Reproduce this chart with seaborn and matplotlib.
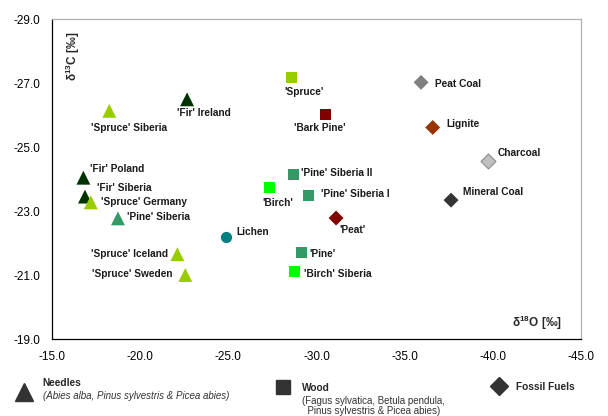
import pandas as pd
import matplotlib.pyplot as plt
import seaborn as sns
from matplotlib.lines import Line2D

# 資料：樣品名稱、分組、δ18O、δ13C、顏色
names = ["'Spruce' Siberia", "'Fir' Ireland", "'Fir' Poland", "'Fir' Siberia",
         "'Spruce' Germany", "'Pine' Siberia", "'Spruce' Iceland", "'Spruce' Sweden",
         "Lichen",
         "'Spruce'", "'Bark Pine'", "'Pine' Siberia II", "'Birch'", "'Pine' Siberia I",
         "'Pine'", "'Birch' Siberia",
         "'Peat'", "Peat Coal", "Lignite", "Charcoal", "Mineral Coal"]
groups = ['Needles'] * 8 + ['Lichen'] + ['Wood'] * 7 + ['Fossil'] * 5
d18O = [-18.25, -22.66, -16.78, -16.87, -17.20, -18.74, -22.11, -22.56,
        -24.85,
        -28.57, -30.52, -28.71, -27.32, -29.54, -29.16, -28.77,
        -31.11, -35.93, -36.59, -39.75, -37.63]
d13C = [-26.13, -26.49, -24.04, -23.45, -23.27, -22.77, -21.65, -21.00,
        -22.18,
        -27.16, -26.03, -24.13, -23.73, -23.48, -21.71, -21.11,
        -22.78, -27.02, -25.61, -24.56, -23.34]
colors = ['#99cc00', '#003300', '#003300', '#003300', '#99cc00', '#339966', '#99cc00', '#99cc00',
          '#008080',
          '#99cc00', '#800000', '#339966', '#00ff00', '#339966', '#339966', '#00ff00',
          '#800000', '#808080', '#993300', '#c0c0c0', '#333333']

x_ticks = [-15, -20, -25, -30, -35, -40, -45]
y_ticks = [-29, -27, -25, -23, -21, -19]

# 標籤位移 (像素, 相對於點中心) 與對齊方式
label_off = {
    "'Spruce' Siberia": (-18.6, 17, 'left'), "'Fir' Ireland": (-10.3, 14, 'left'),
    "'Fir' Poland": (6.7, -8.4, 'left'), "'Fir' Siberia": (11.7, -8.4, 'left'),
    "'Spruce' Germany": (10, 0, 'left'), "'Pine' Siberia": (9.3, -1.6, 'left'),
    "'Spruce' Iceland": (-9, 0, 'right'), "'Spruce' Sweden": (-13.3, -0.7, 'right'),
    "Lichen": (10.3, -5.6, 'left'),
    "'Spruce'": (-7.3, 13.7, 'left'), "'Bark Pine'": (-31.4, 13.7, 'left'),
    "'Pine' Siberia II": (7, -1.7, 'left'), "'Birch'": (-7.3, 15.4, 'left'),
    "'Pine' Siberia I": (12.4, -2, 'left'), "'Pine'": (7.6, 1.7, 'left'),
    "'Birch' Siberia": (9.6, 3, 'left'), "'Peat'": (3.3, 12.3, 'left'),
    "Peat Coal": (14.3, 2, 'left'), "Lignite": (13.3, -3, 'left'),
    "Charcoal": (9.4, -8.3, 'left'), "Mineral Coal": (12.3, -8.3, 'left'),
}

df = pd.DataFrame({'name': names, 'group': groups, 'd18O': d18O, 'd13C': d13C})
palette = dict(zip(names, colors))

sns.set_style("white")
plt.rcParams['font.family'] = ['Liberation Sans', 'DejaVu Sans']
plt.rcParams['axes.unicode_minus'] = False
plt.rcParams['mathtext.fontset'] = 'custom'
plt.rcParams['mathtext.rm'] = 'Liberation Sans'
plt.rcParams['mathtext.bf'] = 'Liberation Sans:bold'

fig = plt.figure(figsize=(6.08, 4.16), dpi=100)
ax = fig.add_axes([52 / 608, 1 - 339 / 416, 529 / 608, 320 / 416])

markers = {'Needles': '^', 'Lichen': 'o', 'Wood': 's', 'Fossil': 'D'}
sizes = {'Needles': 100, 'Lichen': 65, 'Wood': 62, 'Fossil': 58}
for g, m in markers.items():
    sub = df[df['group'] == g]
    sns.scatterplot(data=sub, x='d18O', y='d13C', hue='name', palette=palette,
                    marker=m, s=sizes[g], linewidth=0, legend=False, ax=ax)
# Charcoal 有灰色邊框
ch = df[df['name'] == 'Charcoal']
ax.scatter(ch['d18O'], ch['d13C'], marker='D', s=58, facecolor='#c0c0c0',
           edgecolor='#909090', linewidth=0.8, zorder=3)

for _, r in df.iterrows():
    dx, dy, ha = label_off[r['name']]
    ax.annotate(r['name'], (r['d18O'], r['d13C']), xytext=(dx * 0.72, -dy * 0.72),
                textcoords='offset points', ha=ha, va='center',
                fontsize=7.3, fontweight='bold', color='#1a1a1a')

ax.set_xlim(-15, -45)
ax.set_ylim(-19, -29)
ax.set_xticks(x_ticks)
ax.set_yticks(y_ticks)
ax.set_xticklabels([f'{v:.1f}' for v in x_ticks])
ax.set_yticklabels([f'{v:.1f}' for v in y_ticks])
ax.tick_params(axis='x', direction='in', length=3.5, width=0.8, pad=9, labelsize=8.5, colors='black')
ax.tick_params(axis='y', direction='out', length=2.5, width=0.8, pad=6, labelsize=8.5, colors='black')
ax.set_xlabel('')
ax.set_ylabel('')
for s in ['left', 'bottom']:
    ax.spines[s].set_color('black')
    ax.spines[s].set_linewidth(0.9)
for s in ['top', 'right']:
    ax.spines[s].set_color('#b0b0b0')
    ax.spines[s].set_linewidth(0.9)

ax.text(0.04, 0.882, r'$\mathbf{\delta}^{\mathbf{13}}$C [‰]', transform=ax.transAxes, rotation=90,
        ha='center', va='center', fontsize=8.5, fontweight='bold')
ax.text(0.917, 0.05, r'$\mathbf{\delta}^{\mathbf{18}}$O [‰]', transform=ax.transAxes,
        ha='center', va='center', fontsize=8.5, fontweight='bold')

# 圖例 (圖外下方)
W, H = 608, 416
def fx(px): return px / W
def fy(py): return 1 - py / H

fig.add_artist(Line2D([fx(24)], [fy(391.7)], marker='^', markersize=13,
                      color='#333333', linestyle='none', transform=fig.transFigure))
fig.add_artist(Line2D([fx(283.3)], [fy(386.7)], marker='s', markersize=9.5,
                      color='#333333', linestyle='none', transform=fig.transFigure))
fig.add_artist(Line2D([fx(499.3)], [fy(386)], marker='D', markersize=9,
                      color='#333333', linestyle='none', transform=fig.transFigure))

fig.text(fx(42.7), fy(382.7), 'Needles', ha='left', va='center', fontsize=7.3, fontweight='bold')
fig.text(fx(42.7), fy(396), '(Abies alba, Pinus sylvestris & Picea abies)', ha='left',
         va='center', fontsize=7, style='italic', color='#333333')
fig.text(fx(301.7), fy(387.7), 'Wood', ha='left', va='center', fontsize=7.3, fontweight='bold')
fig.text(fx(301.7), fy(401.5), '(Fagus sylvatica, Betula pendula,', ha='left',
         va='center', fontsize=7, color='#333333')
fig.text(fx(301.7), fy(411), '  Pinus sylvestris & Picea abies)', ha='left',
         va='center', fontsize=7, color='#333333')
fig.text(fx(516), fy(387.3), 'Fossil Fuels', ha='left', va='center', fontsize=7.3, fontweight='bold')

fig.savefig('out.png', dpi=100)
